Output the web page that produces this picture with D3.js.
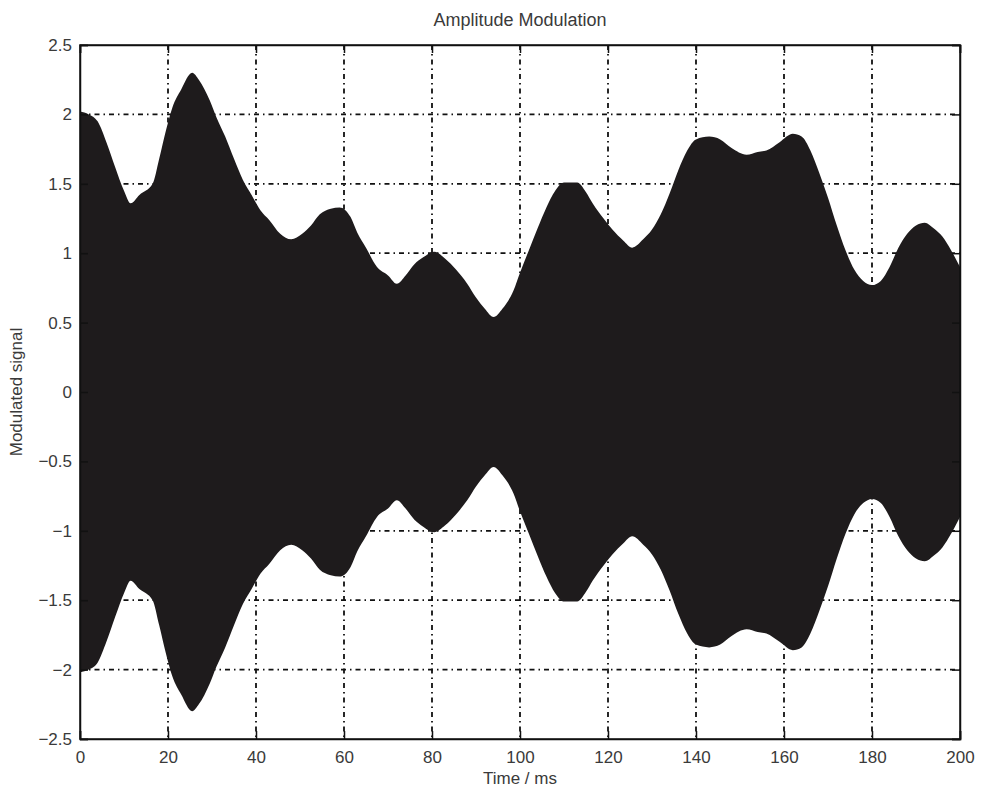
<!DOCTYPE html>
<meta charset="utf-8">
<style>
    body { margin: 0; background: #fff; }
    svg text { font-family: "Liberation Sans", Arial, sans-serif; fill: #3a3a3a; }
</style>
<script src="https://d3js.org/d3.v7.min.js"></script>
<div id="chart"></div>
<script>
    // envelope of the modulated signal (time in ms, amplitude)
    var times = [0, 2, 4, 6, 8, 10, 11.5, 13.5, 16.5, 18, 19.5, 21, 23, 25.5, 27, 29.5, 31, 33, 35, 37,
        39, 41, 43, 45.5, 48, 50.5, 52.5, 54.5, 57, 59, 61.5, 63, 65, 67.5, 70, 72, 74, 76, 78, 80.5,
        83, 85.5, 88, 90, 92, 94, 96, 98.5, 100, 102, 104, 106, 108, 110, 113, 115, 116.5, 119, 121, 123.5,
        125.5, 128, 130, 132, 134, 136, 138, 140, 143, 145.5, 148, 151.5, 154, 156, 159, 162, 164, 166, 168, 170,
        172, 174, 176, 178, 180, 182, 184, 186, 188, 190, 192, 194, 196, 198, 200];
    var upper = [2.02, 2.0, 1.95, 1.8, 1.62, 1.45, 1.36, 1.42, 1.5, 1.68, 1.88, 2.05, 2.18, 2.3, 2.25, 2.1, 1.98, 1.84, 1.68, 1.53,
        1.42, 1.31, 1.24, 1.14, 1.1, 1.14, 1.2, 1.28, 1.32, 1.33, 1.26, 1.15, 1.04, 0.9, 0.84, 0.78, 0.84, 0.92, 0.97, 1.01,
        0.96, 0.88, 0.78, 0.68, 0.6, 0.54, 0.6, 0.73, 0.86, 1.02, 1.18, 1.33, 1.45, 1.51, 1.51, 1.44, 1.36, 1.25, 1.17, 1.09,
        1.04, 1.1, 1.17, 1.28, 1.43, 1.6, 1.74, 1.82, 1.84, 1.82, 1.76, 1.71, 1.73, 1.74, 1.8, 1.86, 1.84, 1.74, 1.58, 1.4,
        1.2, 1.02, 0.88, 0.8, 0.77, 0.8, 0.9, 1.04, 1.14, 1.2, 1.22, 1.18, 1.12, 1.02, 0.9];

    var xTicks = [0, 20, 40, 60, 80, 100, 120, 140, 160, 180, 200];
    var yTicks = [-2.5, -2, -1.5, -1, -0.5, 0, 0.5, 1, 1.5, 2, 2.5];

    var margin = {top: 45, right: 24, bottom: 50, left: 80},
        width = 984 - margin.left - margin.right,
        height = 789 - margin.top - margin.bottom;

    var svg = d3.select("#chart")
        .append("svg")
        .attr("width", 984)
        .attr("height", 789)
        .append("g")
        .attr("transform", "translate(" + margin.left + "," + margin.top + ")");

    var x = d3.scaleLinear().domain([0, 200]).range([0, width]);
    var y = d3.scaleLinear().domain([-2.5, 2.5]).range([height, 0]);

    // grid (dash-dot)
    svg.append("g").selectAll("line")
        .data(xTicks.slice(1, -1))
        .enter().append("line")
        .attr("x1", function(d) { return x(d) }).attr("x2", function(d) { return x(d) })
        .attr("y1", 0).attr("y2", height)
        .attr("stroke", "#111").attr("stroke-width", 1.8)
        .attr("stroke-dasharray", "5,4,1.5,4");
    svg.append("g").selectAll("line")
        .data(yTicks.slice(1, -1))
        .enter().append("line")
        .attr("y1", function(d) { return y(d) }).attr("y2", function(d) { return y(d) })
        .attr("x1", 0).attr("x2", width)
        .attr("stroke", "#111").attr("stroke-width", 1.8)
        .attr("stroke-dasharray", "5,4,1.5,4");

    var data = times.map(function(t, i) { return {t: t, v: upper[i]} });

    svg.append("path")
        .datum(data)
        .attr("fill", "#1e1b1c")
        .attr("d", d3.area()
            .curve(d3.curveMonotoneX)
            .x(function(d) { return x(d.t) })
            .y0(function(d) { return y(-d.v) })
            .y1(function(d) { return y(d.v) })
        );

    // axes with inward ticks on all four sides
    var fmt = function(d) { return d3.format("")(d) };
    svg.append("g")
        .attr("transform", "translate(0," + height + ")")
        .call(d3.axisBottom(x).tickValues(xTicks).tickSize(-8).tickPadding(12).tickFormat(fmt));
    svg.append("g")
        .call(d3.axisLeft(y).tickValues(yTicks).tickSize(-8).tickPadding(8).tickFormat(fmt));
    svg.append("g")
        .call(d3.axisTop(x).tickValues(xTicks).tickSize(-8).tickFormat(""));
    svg.append("g")
        .attr("transform", "translate(" + width + ",0)")
        .call(d3.axisRight(y).tickValues(yTicks).tickSize(-8).tickFormat(""));

    svg.selectAll(".domain").attr("stroke", "#111").attr("stroke-width", 1.5);
    svg.selectAll(".tick line").attr("stroke", "#111").attr("stroke-width", 1.5);
    svg.selectAll(".tick text").style("font-size", "17px").attr("fill", "#3a3a3a");

    svg.append("rect")
        .attr("width", width).attr("height", height)
        .attr("fill", "none").attr("stroke", "#111").attr("stroke-width", 1.5);

    svg.append("text")
        .attr("x", width / 2).attr("y", -19)
        .attr("text-anchor", "middle")
        .style("font-size", "18px")
        .text("Amplitude Modulation");

    svg.append("text")
        .attr("x", width / 2).attr("y", height + 45)
        .attr("text-anchor", "middle")
        .style("font-size", "17px")
        .text("Time / ms");

    svg.append("text")
        .attr("transform", "translate(" + (-58) + "," + (height / 2) + ") rotate(-90)")
        .attr("text-anchor", "middle")
        .style("font-size", "17px")
        .text("Modulated signal");
</script>
